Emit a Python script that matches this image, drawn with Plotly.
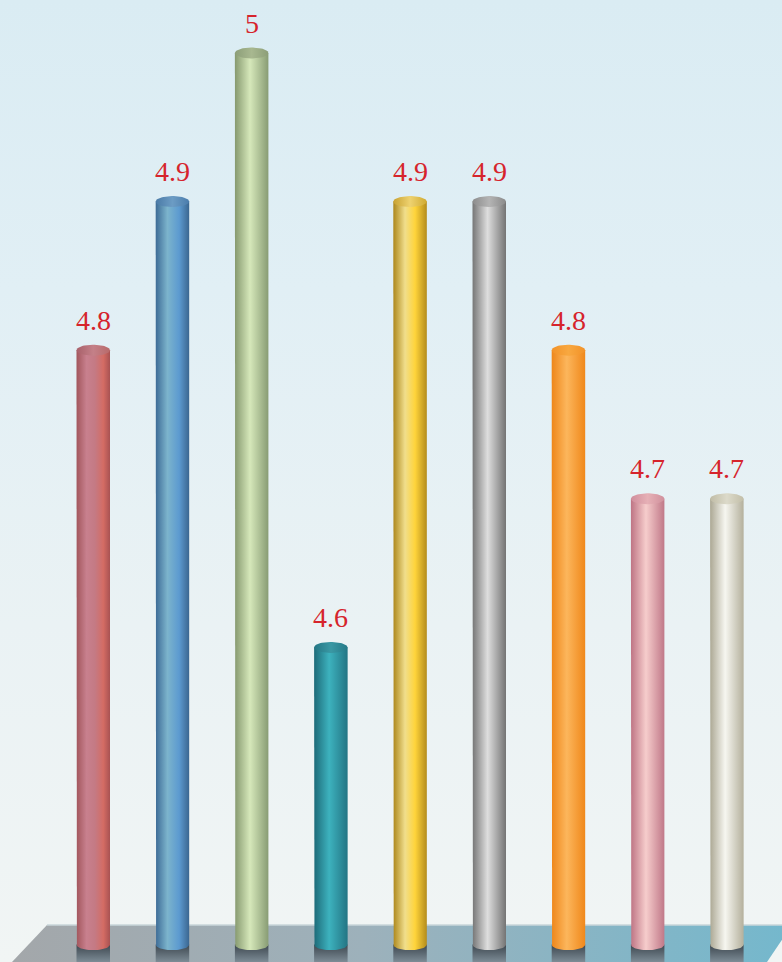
import numpy as np
import plotly.graph_objects as go

# Values shown above each cylinder
values = [4.8, 4.9, 5.0, 4.6, 4.9, 4.9, 4.8, 4.7, 4.7]
labels = ["4.8", "4.9", "5", "4.6", "4.9", "4.9", "4.8", "4.7", "4.7"]
base_value = 4.4

# Horizontal shading of each cylinder body (edge -> highlight -> edge)
body_scales = [
    [[0, "#a2565c"], [0.3, "#c8808e"], [0.55, "#c47a84"], [0.8, "#d46c64"], [1, "#a85252"]],
    [[0, "#3d6b96"], [0.35, "#7cb4cc"], [0.7, "#5c9ad0"], [1, "#3b6690"]],
    [[0, "#86996f"], [0.45, "#d6e8ba"], [1, "#889c74"]],
    [[0, "#1d6a78"], [0.45, "#3db2be"], [1, "#237584"]],
    [[0, "#ad871c"], [0.35, "#f0de8c"], [0.65, "#ffd43a"], [1, "#b48c1c"]],
    [[0, "#767676"], [0.45, "#dedede"], [1, "#747474"]],
    [[0, "#ee861a"], [0.45, "#fcb65c"], [1, "#f0881a"]],
    [[0, "#be7484"], [0.45, "#f6cdcc"], [1, "#c07888"]],
    [[0, "#aca894"], [0.45, "#f6f6f0"], [1, "#b4b09c"]],
]
# Shading of the elliptical caps
cap_scales = [
    [[0, "#a8606a"], [0.5, "#c48088"], [1, "#b86a6a"]],
    [[0, "#4a7aa6"], [0.5, "#6c9cc4"], [1, "#4a7cac"]],
    [[0, "#8c9e78"], [0.5, "#a8b890"], [1, "#8c9e78"]],
    [[0, "#237684"], [0.5, "#3a98a4"], [1, "#257a88"]],
    [[0, "#c8a232"], [0.5, "#eed270"], [1, "#d0aa30"]],
    [[0, "#8c8c8c"], [0.5, "#b4b4b4"], [1, "#8a8a8a"]],
    [[0, "#f29228"], [0.5, "#f8a840"], [1, "#f29228"]],
    [[0, "#d08e9c"], [0.5, "#e6b0b6"], [1, "#d0909c"]],
    [[0, "#c0bca6"], [0.5, "#dcdaca"], [1, "#c2bea8"]],
]
label_color = "#d6242c"

# Figure geometry (pixels) and axis calibration
W, H = 782, 962
x0_px, step_px = 93.25, 79.2          # centre of first cylinder, spacing
bar_px = 33.5                          # cylinder diameter
top_px, top_val = 53.0, 5.0            # pixel row of the value 5.0
px_per_unit = 1486.0
base_px = top_px + (top_val - base_value) * px_per_unit

x_range = [-x0_px / step_px, (W - x0_px) / step_px]
y_range = [base_value - (H - base_px) / px_per_unit, top_val + top_px / px_per_unit]
dx = 1.0 / step_px        # data units per pixel, x
dy = 1.0 / px_per_unit    # data units per pixel, y

half_w = bar_px / 2 * dx
ry = 5.5 * dy

fig = go.Figure()

# Background wash
fig.add_trace(go.Scatter(
    x=[x_range[0], x_range[1], x_range[1], x_range[0], x_range[0]],
    y=[y_range[0], y_range[0], y_range[1], y_range[1], y_range[0]],
    fill="toself", mode="lines", line=dict(width=0),
    fillgradient=dict(type="vertical", colorscale=[
        [0, "#f1f5f4"], [0.35, "#eaf2f4"], [0.7, "#e1eff5"], [1, "#daecf3"]]),
    hoverinfo="skip", showlegend=False))

# Floor slab
floor_top = base_value + (base_px - 925) * dy
fx = [(12 - x0_px) / step_px, (767 - x0_px) / step_px,
      (792 - x0_px) / step_px, (47 - x0_px) / step_px]
fy = [y_range[0], y_range[0], floor_top, floor_top]
fig.add_trace(go.Scatter(
    x=fx + [fx[0]], y=fy + [fy[0]], fill="toself", mode="lines",
    line=dict(width=0),
    fillgradient=dict(type="horizontal", colorscale=[
        [0, "#a3a7aa"], [0.45, "#9db1bb"], [1, "#74b8cd"]]),
    hoverinfo="skip", showlegend=False))
fig.add_trace(go.Scatter(
    x=[fx[3], fx[2]], y=[floor_top, floor_top], mode="lines",
    line=dict(color="#c9d6da", width=1.5), hoverinfo="skip", showlegend=False))

t_low = np.linspace(np.pi, 2 * np.pi, 30)
t_all = np.linspace(0, 2 * np.pi, 60)

for i, v in enumerate(values):
    xl, xr = i - half_w, i + half_w

    # Shadow beneath the cylinder
    fig.add_trace(go.Scatter(
        x=[xl, xr, xr, xl, xl],
        y=[base_value, base_value, y_range[0], y_range[0], base_value],
        fill="toself", mode="lines", line=dict(width=0),
        fillgradient=dict(type="vertical", colorscale=[
            [0, "#7d8c96"], [0.6, "#56626b"], [1, "#3e4850"]]),
        hoverinfo="skip", showlegend=False))

    # Body with rounded bottom
    bx = np.concatenate([[xl, xl], i + half_w * np.cos(t_low), [xr, xr, xl]])
    by = np.concatenate([[v, base_value], base_value + ry * np.sin(t_low),
                         [base_value, v, v]])
    fig.add_trace(go.Scatter(
        x=bx, y=by, fill="toself", mode="lines", line=dict(width=0),
        fillgradient=dict(type="horizontal", colorscale=body_scales[i]),
        hoverinfo="skip", showlegend=False))

    # Top cap
    fig.add_trace(go.Scatter(
        x=i + half_w * np.cos(t_all), y=v + ry * np.sin(t_all),
        fill="toself", mode="lines", line=dict(width=0),
        fillgradient=dict(type="horizontal", colorscale=cap_scales[i]),
        hoverinfo="skip", showlegend=False))

# Value labels
for i, (v, lab) in enumerate(zip(values, labels)):
    fig.add_annotation(
        x=i, y=v, text=lab, showarrow=False, yshift=30,
        xanchor="center", yanchor="middle",
        font=dict(family="Liberation Serif", size=28, color=label_color))

fig.update_layout(
    width=W, height=H,
    margin=dict(l=0, r=0, t=0, b=0),
    paper_bgcolor="#e8f2f5", plot_bgcolor="#e8f2f5",
    xaxis=dict(range=x_range, visible=False, fixedrange=True),
    yaxis=dict(range=y_range, visible=False, fixedrange=True),
    showlegend=False,
)

fig.write_html("out.html")
